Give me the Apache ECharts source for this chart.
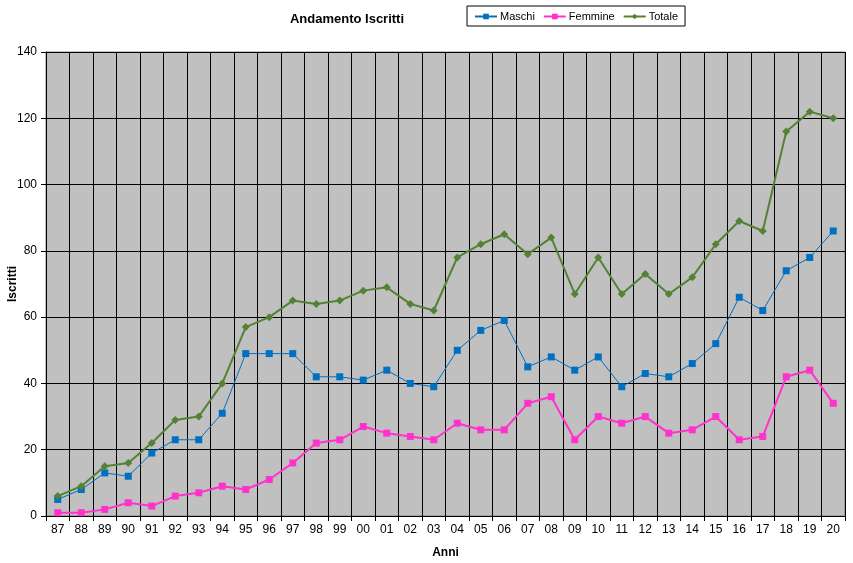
<!DOCTYPE html>
<html>
<head>
<meta charset="utf-8">
<script src="https://cdn.jsdelivr.net/npm/echarts@6/dist/echarts.min.js"></script>
<style>html,body{margin:0;padding:0;background:#fff}#c{width:853px;height:563px}</style>
</head>
<body>
<div id="c"></div>
<script>
const categories = ['87','88','89','90','91','92','93','94','95','96','97','98','99','00','01','02','03','04','05','06','07','08','09','10','11','12','13','14','15','16','17','18','19','20'];
const maschi = [5,8,13,12,19,23,23,31,49,49,49,42,42,41,44,40,39,50,56,59,45,48,44,48,39,43,42,46,52,66,62,74,78,86];
const femmine = [1,1,2,4,3,6,7,9,8,11,16,22,23,27,25,24,23,28,26,26,34,36,23,30,28,30,25,26,30,23,24,42,44,34];
const totale = [6,9,15,16,22,29,30,40,57,60,65,64,65,68,69,64,62,78,82,85,79,84,67,78,67,73,67,72,82,89,86,116,122,120];
const yTicks = [0,20,40,60,80,100,120,140];

const font = 'Liberation Sans, Arial, sans-serif';
const chart = echarts.init(document.getElementById('c'));
chart.setOption({
  animation: false,
  textStyle: {fontFamily: font},
  title: {
    text: 'Andamento Iscritti', left: 342, top: 8, textAlign: 'center',
    textStyle: {fontSize: 13, fontWeight: 'bold', color: '#000', fontFamily: font}
  },
  legend: {
    left: 467, top: 6,
    orient: 'horizontal',
    padding: [5, 7, 4, 7],
    borderColor: '#000', borderWidth: 1,
    itemWidth: 22, itemHeight: 7, itemGap: 8,
    textStyle: {fontSize: 11, color: '#000', fontFamily: font, padding: [0, 0, 0, -2]},
    data: ['Maschi','Femmine','Totale']
  },
  grid: {
    left: 46, right: 8, top: 52, bottom: 47,
    outerBoundsMode: 'none', containLabel: false,
    show: true, backgroundColor: '#C0C0C0', borderColor: '#808080', borderWidth: 1
  },
  xAxis: {
    type: 'category', data: categories, boundaryGap: true,
    name: 'Anni', nameLocation: 'middle', nameGap: 31,
    nameTextStyle: {fontSize: 12, fontWeight: 'bold', color: '#000'},
    axisLine: {lineStyle: {color: '#000', width: 1}},
    axisTick: {show: true, alignWithLabel: false, length: 5, lineStyle: {color: '#000'}},
    axisLabel: {color: '#000', fontSize: 12, margin: 8, interval: 0},
    splitLine: {show: true, interval: 0, lineStyle: {color: '#000', width: 1}}
  },
  yAxis: {
    type: 'value', min: 0, max: 140, interval: 20,
    name: 'Iscritti', nameLocation: 'middle', nameGap: 27, nameMoveOverlap: false,
    nameTextStyle: {fontSize: 12, fontWeight: 'bold', color: '#000'},
    axisLine: {show: true, lineStyle: {color: '#000', width: 1}},
    axisTick: {show: true, length: 5, lineStyle: {color: '#000'}},
    axisLabel: {color: '#000', fontSize: 12, margin: 9, formatter: v => yTicks.includes(v) ? String(v) : ''},
    splitLine: {show: true, lineStyle: {color: '#000', width: 1}}
  },
  series: [
    {name: 'Maschi', type: 'line', data: maschi, symbol: 'rect', symbolSize: 7,
     lineStyle: {color: '#0070C0', width: 1}, itemStyle: {color: '#0070C0'}, z: 3},
    {name: 'Femmine', type: 'line', data: femmine, symbol: 'rect', symbolSize: 7,
     lineStyle: {color: '#FF33CC', width: 2}, itemStyle: {color: '#FF33CC'}, z: 4},
    {name: 'Totale', type: 'line', data: totale, symbol: 'diamond', symbolSize: 8,
     lineStyle: {color: '#548235', width: 2}, itemStyle: {color: '#548235'}, z: 5}
  ]
});
</script>
</body>
</html>
